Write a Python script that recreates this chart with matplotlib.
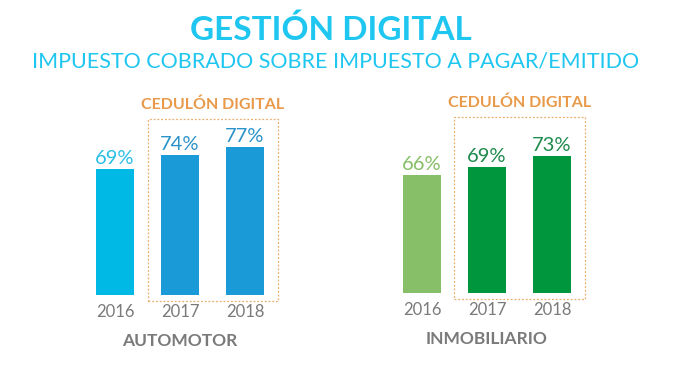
import matplotlib.pyplot as plt
from matplotlib.patches import Rectangle

# --- datos ---
years = ['2016', '2017', '2018']
auto_vals = [69, 74, 77]
inmo_vals = [66, 69, 73]
panel_names = ['AUTOMOTOR', 'INMOBILIARIO']
box_label = 'CEDULÓN DIGITAL'
title = 'GESTIÓN DIGITAL'
subtitle = 'IMPUESTO COBRADO SOBRE IMPUESTO A PAGAR/EMITIDO'

auto_colors = ['#00b9e4', '#1a9ad6', '#1a9ad6']
inmo_colors = ['#86bf67', '#00963e', '#00963e']
auto_text = ['#2bbfe6', '#2a92c9', '#2a92c9']
inmo_text = ['#86bf67', '#1e8a4c', '#1e8a4c']
ORANGE = '#e89a4a'
GRAY = '#7a7a7a'
FONT = 'Lato'

W, H = 679, 365
fig = plt.figure(figsize=(W / 100, H / 100), dpi=100)
fig.patch.set_facecolor('white')

PITCH = 65.0      # px entre barras
PXPERC = 2.8      # px por punto porcentual
BASE = 24         # valor en la base de la barra


def panel(first_center, base_px, vals, colors, tcolors, name):
    # ejes en pixeles: de base_px hacia arriba
    left_px = first_center - 0.8 * PITCH
    right_px = first_center + 2.8 * PITCH
    top_px = 95
    ax = fig.add_axes([left_px / W, 1 - base_px / H,
                       (right_px - left_px) / W, (base_px - top_px) / H])
    ax.set_xlim(-0.8, 2.8)
    ax.set_ylim(BASE, BASE + (base_px - top_px) / PXPERC)
    ax.axis('off')
    x = range(len(vals))
    ax.bar(x, vals, width=38 / PITCH, color=colors, bottom=0)
    for i, v in enumerate(vals):
        ax.annotate(f'{v}%', (i, v), xytext=(0, 1.5), textcoords='offset points',
                    ha='center', va='bottom', fontsize=14.5, color=tcolors[i],
                    family=FONT)
        ax.annotate(years[i], (i, BASE), xytext=(0, -12), textcoords='offset points',
                    ha='center', va='center', fontsize=12, color=GRAY,
                    family=FONT, annotation_clip=False)
    # recuadro punteado del cedulón
    ax.add_patch(Rectangle((0.5, BASE - 6 / PXPERC), 2.0, 182 / PXPERC,
                           fill=False, ec=ORANGE, lw=0.9, ls=(0, (1.5, 1.5)),
                           clip_on=False, alpha=0.8))
    ax.text(1.5, BASE + 190 / PXPERC, box_label, ha='center', va='center',
            fontsize=11.5, color=ORANGE, fontweight='bold', family=FONT,
            clip_on=False)
    ax.annotate(name, (1, BASE), xytext=(0, -33), textcoords='offset points',
                ha='center', va='center', fontsize=12.5, color=GRAY,
                fontweight='bold', family=FONT, annotation_clip=False)


panel(115, 295, auto_vals, auto_colors, auto_text, panel_names[0])
panel(422, 293, inmo_vals, inmo_colors, inmo_text, panel_names[1])

fig.text(331 / W, 1 - 30 / H, title, ha='center', va='center', fontsize=24,
         color='#1ec6f0', fontweight='bold', family=FONT)
fig.text(336 / W, 1 - 61 / H, subtitle, ha='center', va='center', fontsize=15.5,
         color='#1ec6f0', family=FONT)

fig.savefig('out.png', dpi=100, facecolor='white')
